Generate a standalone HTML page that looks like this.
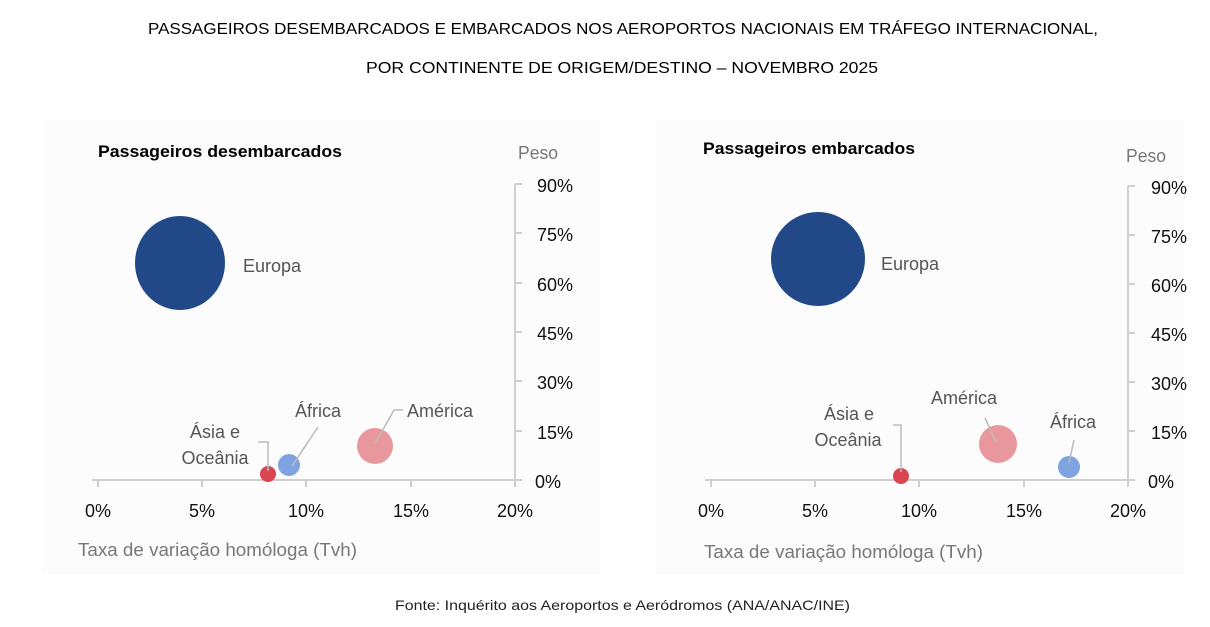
<!DOCTYPE html>
<html><head><meta charset="utf-8"><style>
body{margin:0;background:#fff;}
svg{display:block;font-family:"Liberation Sans",sans-serif;}
</style></head><body>
<svg width="1210" height="627" viewBox="0 0 1210 627">
<rect x="42" y="120" width="558" height="455" fill="#fcfcfd"/>
<rect x="655" y="120" width="530" height="455" fill="#fcfcfd"/>
<g font-size="16" fill="#000">
<text x="148" y="34" textLength="950" lengthAdjust="spacingAndGlyphs">PASSAGEIROS DESEMBARCADOS E EMBARCADOS NOS AEROPORTOS NACIONAIS EM TRÁFEGO INTERNACIONAL,</text>
<text x="366" y="73" textLength="512" lengthAdjust="spacingAndGlyphs">POR CONTINENTE DE ORIGEM/DESTINO – NOVEMBRO 2025</text>
</g>
<text x="395" y="610" font-size="14" fill="#222" textLength="455" lengthAdjust="spacingAndGlyphs">Fonte: Inquérito aos Aeroportos e Aeródromos (ANA/ANAC/INE)</text>

<!-- LEFT -->
<g>
<text x="98" y="157" font-size="17" font-weight="bold" textLength="244" lengthAdjust="spacingAndGlyphs">Passageiros desembarcados</text>
<text x="518" y="159" font-size="18" fill="#777" textLength="40" lengthAdjust="spacingAndGlyphs">Peso</text>
<g stroke="#d0d0d0" stroke-width="2" fill="none">
<line x1="92" y1="480" x2="522" y2="480"/>
<line x1="515" y1="184" x2="515" y2="480"/>
<line x1="98" y1="480" x2="98" y2="487"/><line x1="202" y1="480" x2="202" y2="487"/><line x1="306" y1="480" x2="306" y2="487"/><line x1="411" y1="480" x2="411" y2="487"/><line x1="515" y1="480" x2="515" y2="487"/>
<line x1="515" y1="184" x2="522" y2="184"/><line x1="515" y1="233" x2="522" y2="233"/><line x1="515" y1="283" x2="522" y2="283"/><line x1="515" y1="332" x2="522" y2="332"/><line x1="515" y1="381" x2="522" y2="381"/><line x1="515" y1="431" x2="522" y2="431"/>
</g>
<g font-size="18" fill="#111" text-anchor="end">
<text x="573" y="192">90%</text><text x="573" y="241">75%</text><text x="573" y="291">60%</text><text x="573" y="340">45%</text><text x="573" y="389">30%</text><text x="573" y="439">15%</text><text x="561" y="488">0%</text>
</g>
<g font-size="18" fill="#111" text-anchor="middle">
<text x="98" y="517">0%</text><text x="202" y="517">5%</text><text x="306" y="517">10%</text><text x="411" y="517">15%</text><text x="515" y="517">20%</text>
</g>
<text x="78" y="556" font-size="18" fill="#777" textLength="279" lengthAdjust="spacingAndGlyphs">Taxa de variação homóloga (Tvh)</text>
<ellipse cx="180" cy="263" rx="45" ry="47" fill="#214887"/>
<circle cx="375" cy="446" r="18" fill="#e8979d"/>
<circle cx="289" cy="465" r="11" fill="#7ea3e0"/>
<circle cx="268" cy="474" r="8" fill="#d9464f"/>
<g stroke="#bbb" stroke-width="1.5" fill="none">
<polyline points="375,444 394,410 403,410"/>
<line x1="292" y1="466" x2="318" y2="427"/>
<polyline points="268,471 268,442 258,442"/>
</g>
<g font-size="18" fill="#555">
<text x="243" y="272">Europa</text>
<text x="407" y="417">América</text>
<text x="295" y="417">África</text>
<text x="215" y="438" text-anchor="middle">Ásia e</text>
<text x="215" y="464" text-anchor="middle">Oceânia</text>
</g>
</g>

<!-- RIGHT -->
<g>
<text x="703" y="154" font-size="17" font-weight="bold" textLength="212" lengthAdjust="spacingAndGlyphs">Passageiros embarcados</text>
<text x="1126" y="162" font-size="18" fill="#777" textLength="40" lengthAdjust="spacingAndGlyphs">Peso</text>
<g stroke="#d0d0d0" stroke-width="2" fill="none">
<line x1="705" y1="480" x2="1135" y2="480"/>
<line x1="1128" y1="186" x2="1128" y2="480"/>
<line x1="711" y1="480" x2="711" y2="487"/><line x1="815" y1="480" x2="815" y2="487"/><line x1="919" y1="480" x2="919" y2="487"/><line x1="1024" y1="480" x2="1024" y2="487"/><line x1="1128" y1="480" x2="1128" y2="487"/>
<line x1="1128" y1="186" x2="1135" y2="186"/><line x1="1128" y1="235" x2="1135" y2="235"/><line x1="1128" y1="284" x2="1135" y2="284"/><line x1="1128" y1="333" x2="1135" y2="333"/><line x1="1128" y1="382" x2="1135" y2="382"/><line x1="1128" y1="431" x2="1135" y2="431"/>
</g>
<g font-size="18" fill="#111" text-anchor="end">
<text x="1187" y="194">90%</text><text x="1187" y="243">75%</text><text x="1187" y="292">60%</text><text x="1187" y="341">45%</text><text x="1187" y="390">30%</text><text x="1187" y="439">15%</text><text x="1174" y="488">0%</text>
</g>
<g font-size="18" fill="#111" text-anchor="middle">
<text x="711" y="517">0%</text><text x="815" y="517">5%</text><text x="919" y="517">10%</text><text x="1024" y="517">15%</text><text x="1128" y="517">20%</text>
</g>
<text x="704" y="558" font-size="18" fill="#777" textLength="279" lengthAdjust="spacingAndGlyphs">Taxa de variação homóloga (Tvh)</text>
<circle cx="818" cy="259" r="47" fill="#214887"/>
<circle cx="998" cy="444" r="19" fill="#e8979d"/>
<circle cx="1069" cy="467" r="11" fill="#7ea3e0"/>
<circle cx="901" cy="476" r="8" fill="#d9464f"/>
<g stroke="#bbb" stroke-width="1.5" fill="none">
<line x1="996" y1="442" x2="985" y2="418"/>
<line x1="1069" y1="463" x2="1074" y2="440"/>
<polyline points="901,472 901,425 893,425"/>
</g>
<g font-size="18" fill="#555">
<text x="881" y="270">Europa</text>
<text x="931" y="404">América</text>
<text x="1050" y="428">África</text>
<text x="849" y="420" text-anchor="middle">Ásia e</text>
<text x="848" y="446" text-anchor="middle">Oceânia</text>
</g>
</g>
</svg>
</body></html>
